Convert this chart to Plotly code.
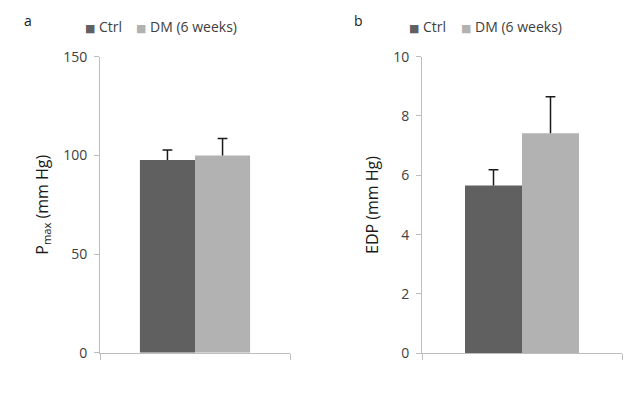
import plotly.graph_objects as go

groups = ["Ctrl", "DM (6 weeks)"]
colors = ["#606060", "#b2b2b2"]

pmax_mean = [97.7, 100.0]
pmax_err = [5.0, 8.5]

edp_mean = [5.66, 7.42]
edp_err = [0.53, 1.23]

fig = go.Figure()

font_family = "Open Sans"
axis_col = "#bdbdbd"
text_col = "#404040"
err_col = "#1a1a1a"

def add_panel(means, errs, xa, ya, width):
    for i, (g, m, e, c) in enumerate(zip(groups, means, errs, colors)):
        off = -width if i == 0 else 0
        fig.add_trace(go.Bar(
            x=[0], y=[m], name=g, marker=dict(color=c, line=dict(width=0)),
            width=width, offset=off,
            error_y=dict(type="data", array=[e], arrayminus=[0], symmetric=False,
                         color=err_col, thickness=1.5, width=0),
            xaxis=xa, yaxis=ya, showlegend=False, hoverinfo="skip",
        ))
        # cap on top of the error bar only
        fig.add_trace(go.Scatter(
            x=[off + width / 2], y=[m + e], mode="markers",
            marker=dict(symbol="line-ew", size=7, line=dict(color=err_col, width=1.5)),
            xaxis=xa, yaxis=ya, showlegend=False, hoverinfo="skip",
        ))

add_panel(pmax_mean, pmax_err, "x", "y", 0.29)
add_panel(edp_mean, edp_err, "x2", "y2", 0.285)

W, H = 639, 398
def dx(a, b):
    return [a / W, b / W]
def dy(top, bottom):
    return [(H - bottom) / H, (H - top) / H]

xcommon = dict(range=[-0.5, 0.5], showgrid=False, zeroline=False, showline=True,
               linecolor=axis_col, linewidth=1, ticks="outside", ticklen=6,
               tickcolor=axis_col, tickvals=[-0.5, 0.5], showticklabels=False,
               fixedrange=True)
ycommon = dict(showgrid=False, zeroline=False, showline=True, linecolor=axis_col,
               linewidth=1, ticks="outside", ticklen=5, tickcolor=axis_col,
               tickfont=dict(family=font_family, size=14, color=text_col),
               ticklabelstandoff=4)
title_font = dict(family=font_family, size=16, color="#1a1a1a")

fig.update_layout(
    width=W, height=H, margin=dict(l=0, r=0, t=0, b=0),
    paper_bgcolor="white", plot_bgcolor="white",
    barmode="overlay",
    xaxis=dict(domain=dx(100, 290), anchor="y", **xcommon),
    yaxis=dict(domain=dy(49, 360), anchor="x", range=[0, 150], tickvals=[0, 50, 100, 150],
               title=dict(text="P<sub>max</sub> (mm Hg)", standoff=10, font=title_font),
               **ycommon),
    xaxis2=dict(domain=dx(422, 622), anchor="y2", **xcommon),
    yaxis2=dict(domain=dy(49, 360.5), anchor="x2", range=[0, 10], tickvals=[0, 2, 4, 6, 8, 10],
                title=dict(text="EDP (mm Hg)", standoff=10, font=title_font), **ycommon),
)

ann = []
for label, lx in [("a", 28), ("b", 358)]:
    ann.append(dict(text=label, x=lx / W, y=(H - 11) / H, xref="paper", yref="paper",
                    showarrow=False, xanchor="center", yanchor="middle",
                    font=dict(family=font_family, size=14, color="#1a1a1a")))

def legend(x0, x1):
    for g, c, lx in zip(groups, colors, [x0, x1]):
        ann.append(dict(
            text=f"<span style='color:{c};font-family:DejaVu Sans;font-size:11px'>■</span> {g}",
            x=lx / W, y=(H - 17) / H, xref="paper", yref="paper", showarrow=False,
            xanchor="left", yanchor="middle",
            font=dict(family=font_family, size=14, color=text_col)))

legend(83, 134)
legend(407, 459)
fig.update_layout(annotations=ann)

fig.write_html("out.html")
